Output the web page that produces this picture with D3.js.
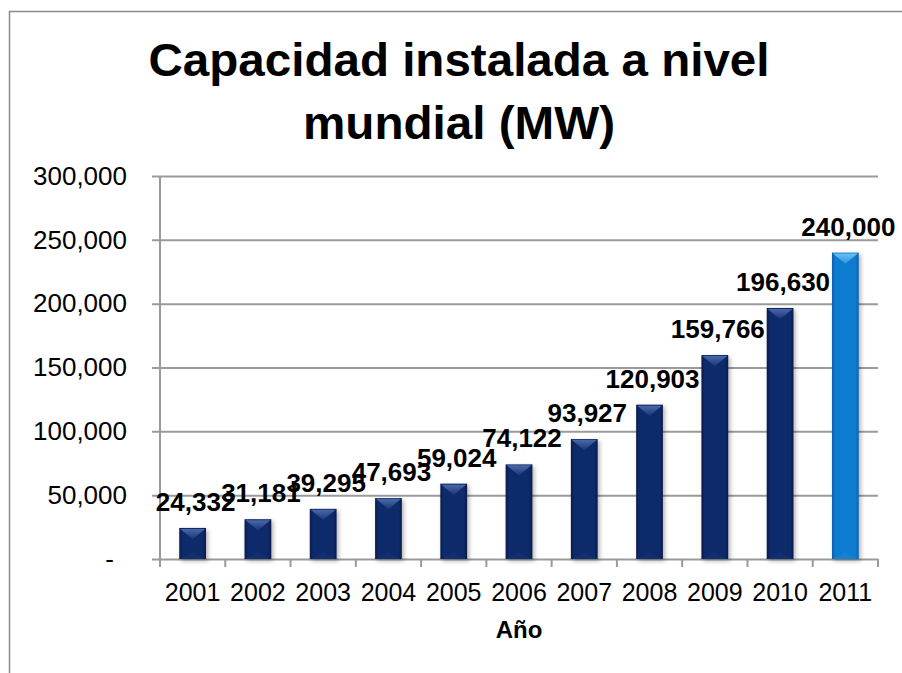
<!DOCTYPE html>
<html>
<head>
<meta charset="utf-8">
<script src="https://cdn.jsdelivr.net/npm/d3@7"></script>
<style>
  html, body { margin: 0; padding: 0; background: #fff; }
  svg { display: block; }
  text { font-family: "Liberation Sans", Arial, sans-serif; }
</style>
</head>
<body>
<svg id="chart" width="902" height="673"></svg>
<script>
const years = ["2001","2002","2003","2004","2005","2006","2007","2008","2009","2010","2011"];
const capacityMW = [24332, 31181, 39295, 47693, 59024, 74122, 93927, 120903, 159766, 196630, 240000];
const highlightYear = "2011";
const yTickValues = [0, 50000, 100000, 150000, 200000, 250000, 300000];
const titleLines = ["Capacidad instalada a nivel", "mundial (MW)"];
const xAxisTitle = "Año";

const svg = d3.select("#chart");
const plot = { left: 160, right: 878, top: 176, bottom: 559 };

// outer chart border
svg.append("rect").attr("x", 9.5).attr("y", 11.5).attr("width", 1000).attr("height", 1000)
  .attr("fill", "#fff").attr("stroke", "#8c8c8c").attr("stroke-width", 1.5);

const defs = svg.append("defs");
function barGrad(id, edge, mid) {
  const g = defs.append("linearGradient").attr("id", id).attr("x1", 0).attr("x2", 1).attr("y1", 0).attr("y2", 0);
  g.append("stop").attr("offset", "0%").attr("stop-color", edge);
  g.append("stop").attr("offset", "12%").attr("stop-color", mid);
  g.append("stop").attr("offset", "88%").attr("stop-color", mid);
  g.append("stop").attr("offset", "100%").attr("stop-color", edge);
}
barGrad("gDark", "#08194a", "#0f2a6a");
barGrad("gLight", "#0a5fa8", "#0b7bd0");
function triGrad(id, top, bot) {
  const g = defs.append("linearGradient").attr("id", id).attr("x1", 0).attr("x2", 0).attr("y1", 0).attr("y2", 1);
  g.append("stop").attr("offset", "0%").attr("stop-color", top);
  g.append("stop").attr("offset", "100%").attr("stop-color", bot);
}
triGrad("tDark", "#4a68a8", "#1a3577");
triGrad("tLight", "#6cc0f4", "#2a92de");
const f = defs.append("filter").attr("id", "shadow").attr("x", "-30%").attr("y", "-10%").attr("width", "170%").attr("height", "130%");
f.append("feDropShadow").attr("dx", 2).attr("dy", 2).attr("stdDeviation", 2).attr("flood-color", "#000").attr("flood-opacity", 0.3);

// scales
const x = d3.scaleBand().domain(years).range([plot.left, plot.right]).paddingInner(0).paddingOuter(0);
const y = d3.scaleLinear().domain([0, 300000]).range([plot.bottom, plot.top]);

// title
const titleCX = 459;
const titleLens = [621, 312];
const titleBase = [76, 139];
titleLines.forEach((t, i) => {
  svg.append("text").attr("x", titleCX).attr("y", titleBase[i]).attr("text-anchor", "middle")
    .attr("font-size", 46).attr("font-weight", "bold").attr("fill", "#000")
    .attr("textLength", titleLens[i]).attr("lengthAdjust", "spacingAndGlyphs").text(t);
});

// y axis with gridlines
const yAxis = d3.axisLeft(y).tickValues(yTickValues)
  .tickSize(-(plot.right - (plot.left - 8))).tickPadding(25)
  .tickFormat(d => d === 0 ? "-" : d3.format(",")(d));
const gy = svg.append("g").attr("transform", `translate(${plot.left - 8},0)`).call(yAxis);
gy.select(".domain").remove();
gy.selectAll(".tick line").attr("stroke", "#9a9a9a").attr("stroke-width", 2);
gy.selectAll(".tick text").attr("font-size", 26).attr("fill", "#000").attr("dy", "0.32em")
  .attr("x", d => d === 0 ? -38 : -25);

// y axis line
svg.append("line").attr("x1", plot.left).attr("x2", plot.left).attr("y1", plot.top).attr("y2", plot.bottom + 8)
  .attr("stroke", "#9a9a9a").attr("stroke-width", 2);

// x axis ticks at band boundaries
const bounds = years.map(d => x(d)).concat([x(years[years.length - 1]) + x.step()]);
svg.append("g").selectAll("line").data(bounds).join("line")
  .attr("x1", d => d).attr("x2", d => d).attr("y1", plot.bottom).attr("y2", plot.bottom + 8)
  .attr("stroke", "#9a9a9a").attr("stroke-width", 2);

// x labels
svg.append("g").selectAll("text").data(years).join("text")
  .attr("x", d => x(d) + x.bandwidth() / 2).attr("y", 601).attr("text-anchor", "middle")
  .attr("font-size", 25).attr("fill", "#000").text(d => d);

svg.append("text").attr("x", (plot.left + plot.right) / 2).attr("y", 638).attr("text-anchor", "middle")
  .attr("font-size", 24).attr("font-weight", "bold").attr("fill", "#000").text(xAxisTitle);

// bars
const data = years.map((yr, i) => ({ year: yr, value: capacityMW[i] }));
const barW = x.bandwidth() * 0.41;
const gb = svg.append("g");
data.forEach(d => {
  const light = d.year === highlightYear;
  const bx = x(d.year) + (x.bandwidth() - barW) / 2;
  const by = y(d.value);
  const bh = y(0) - by;
  const g = gb.append("g");
  g.append("rect").attr("x", bx).attr("y", by).attr("width", barW).attr("height", bh)
    .attr("fill", light ? "url(#gLight)" : "url(#gDark)").attr("filter", "url(#shadow)");
  const th = Math.min(barW * 0.42, bh / 2);
  g.append("path").attr("d", `M${bx + 1},${by + 1} L${bx + barW - 1},${by + 1} L${bx + barW / 2},${by + th} Z`)
    .attr("fill", light ? "url(#tLight)" : "url(#tDark)");
  g.append("path").attr("d", `M${bx + 1},${y(0)} L${bx + barW - 1},${y(0)} L${bx + barW / 2},${y(0) - th * 0.6} Z`)
    .attr("fill", light ? "#1a86d8" : "#1a3472").attr("opacity", 0.5);
});

// data labels
const lbl = svg.append("g").selectAll("text").data(data).join("text")
  .attr("x", d => x(d.year) + x.bandwidth() / 2 + 3).attr("y", d => y(d.value) - 17)
  .attr("text-anchor", "middle").attr("font-size", 25).attr("font-weight", "bold").attr("fill", "#000")
  .text(d => d3.format(",")(d.value));
lbl.each(function () {
  const L = this.getComputedTextLength();
  d3.select(this).attr("textLength", L * 1.04).attr("lengthAdjust", "spacingAndGlyphs");
});
</script>
</body>
</html>
